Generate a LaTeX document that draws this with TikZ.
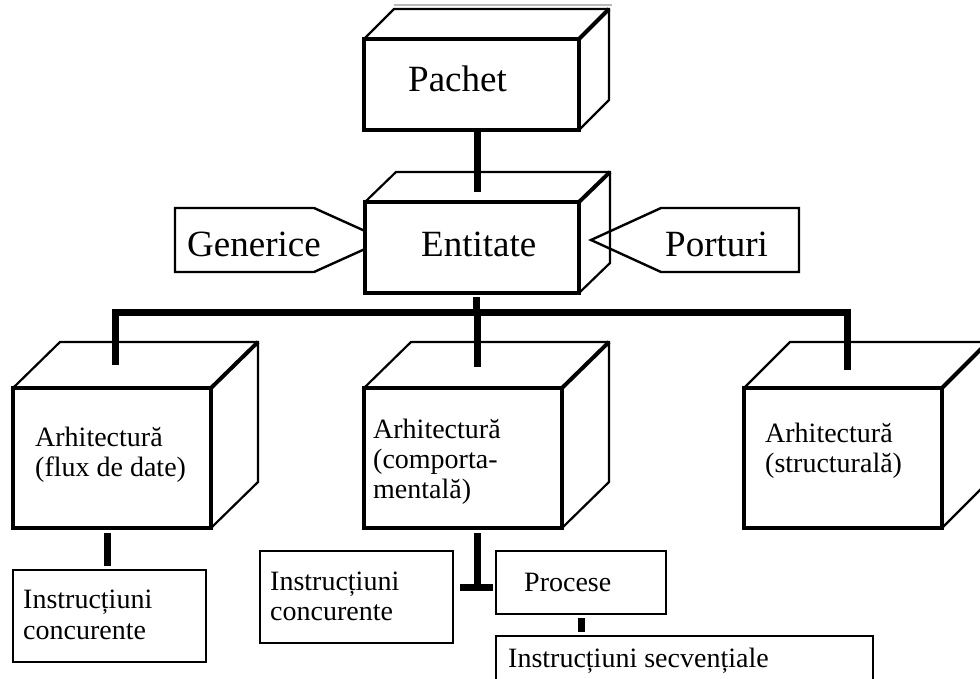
\documentclass[tikz,border=0pt]{standalone}
\usepackage{fontspec}
\setmainfont{Liberation Serif}
\newcommand\cubeback[3]{%
  \draw[back] (#1.north west) -- ++(#2,#3) -- ([shift={(#2,#3)}]#1.north east) -- ([shift={(#2,#3)}]#1.south east) -- (#1.south east);
  \draw[diag] (#1.north east) -- ++(#2,#3);
}
\begin{document}
\begin{tikzpicture}[x=1pt,y=-1pt,
  front/.style={draw,line width=3.2pt,inner sep=0pt,outer sep=0pt},
  back/.style={line width=2.2pt,line join=miter},
  diag/.style={line width=4pt},
  plain/.style={draw,line width=2.2pt,inner sep=0pt,outer sep=0pt},
  shapeline/.style={line width=2.4pt,line join=miter},
  conn/.style={line width=7pt,line cap=butt,line join=miter},
  big/.style={font=\fontsize{37}{44}\selectfont,inner sep=0pt,anchor=base west},
  small/.style={font=\fontsize{28}{34}\selectfont,inner sep=0pt,anchor=base west}]
\useasboundingbox (0,0) rectangle (980,679);
\clip (0,0) rectangle (980,679);
\fill[white] (0,0) rectangle (980,679);

% faint rule at top
\draw[gray!55, line width=2pt] (394,5.5) -- (612,5.5);

% Pachet
\node[front,minimum width=215pt,minimum height=91pt] (pachet) at (471.5,84.5) {};
\cubeback{pachet}{30}{-30}
\node[big] (tpachet) at (408,92) {Pachet};

% Entitate
\node[front,minimum width=214pt,minimum height=91pt] (entitate) at (472,247.5) {};
\cubeback{entitate}{31}{-30}
\node[big] (tentitate) at (421,257) {Entitate};

% Generice
\draw[shapeline] (365,231) -- (314,208) -- (175,208) -- (175,272) -- (314,272) -- (365,249);
\node[big] (tgen) at (187,257) {Generice};

% Porturi
\draw[shapeline] (799,208) -- (661,208) -- (591,240) -- (661,272) -- (799,272) -- cycle;
\node[big] (tport) at (665,257) {Porturi};

% Architecture boxes
\node[front,minimum width=198pt,minimum height=140pt] (archL) at (112,458) {};
\cubeback{archL}{47}{-46}
\node[small] (aL1) at (35,446) {Arhitectură};
\node[small] (aL2) at (35,476) {(flux de date)};

\node[front,minimum width=198pt,minimum height=140pt] (archM) at (463,458) {};
\cubeback{archM}{47}{-46}
\node[small] (aM1) at (373,438) {Arhitectură};
\node[small] (aM2) at (373,468) {(comporta-};
\node[small] (aM3) at (373,498) {mentală)};

\node[front,minimum width=198pt,minimum height=140pt] (archR) at (843,458) {};
\cubeback{archR}{46}{-46}
\node[small] (aR1) at (765,442) {Arhitectură};
\node[small] (aR2) at (765,472) {(structurală)};

% lower boxes
\node[plain,minimum width=193pt,minimum height=92pt] (instrL) at (109.5,616) {};
\node[small] (iL1) at (23,608) {Instrucțiuni};
\node[small] (iL2) at (23,639) {concurente};

\node[plain,minimum width=193pt,minimum height=92pt] (instrM) at (356.5,597) {};
\node[small] (iM1) at (270,590) {Instrucțiuni};
\node[small] (iM2) at (270,620) {concurente};

\node[plain,minimum width=170pt,minimum height=63pt] (proc) at (581,582.5) {};
\node[small] (tproc) at (524,591) {Procese};

\node[plain,minimum width=377pt,minimum height=60pt] (secv) at (684.5,666) {};
\node[small] (tsecv) at (508,667) {Instrucțiuni secvențiale};

% connectors
\draw[conn] ([shift={(5.5,0)}]pachet.south) -- ++(0,62);
\draw[conn] ([shift={(4,4)}]entitate.south) -- ++(0,15);
\coordinate (busL) at (115,312);
\coordinate (busR) at (847,312);
\coordinate (busM) at (477,312);
\draw[conn] ([shift={(3,-23)}]archL.north) -- (busL) -- (busR) -- ([shift={(4,-18)}]archR.north);
\draw[conn] (busM) -- ([shift={(14,-21)}]archM.north);
\draw[conn] ([shift={(-5,5)}]archL.south) -- ([shift={(-2.5,-4)}]instrL.north);
\coordinate (tee) at (477,587);
\draw[conn] ([shift={(14,5)}]archM.south) -- (tee);
\draw[conn] ([shift={(-17,0)}]tee) -- ([shift={(16,0)}]tee);
\draw[conn] ([shift={(0,4)}]proc.south) -- ([shift={(0,-4)}]proc.south |- secv.north);
\end{tikzpicture}
\end{document}
